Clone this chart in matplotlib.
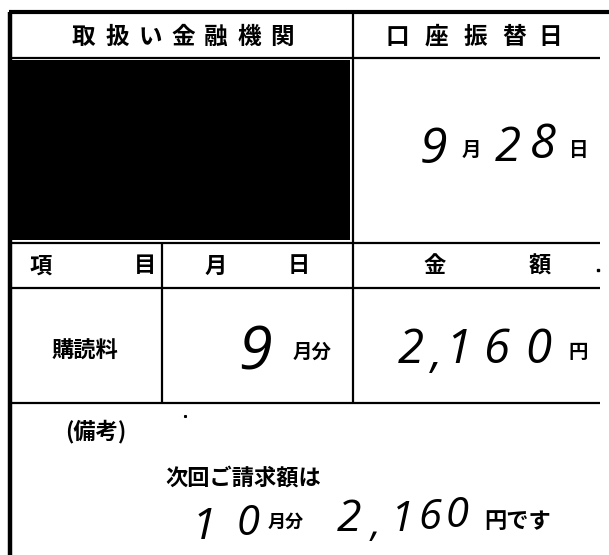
import matplotlib
matplotlib.use("Agg")
import matplotlib.pyplot as plt

plt.rcParams['font.family'] = ['Noto Sans CJK JP', 'DejaVu Sans']

# form ruling (pixel coords of the scanned slip)
h_rules_y = [12, 58, 243, 288, 403]
h_rules_x0 = [9, 9, 9, 9, 9]
h_rules_x1 = [609, 600, 600, 600, 600]
h_rules_w = [3.0, 1.6, 1.6, 1.6, 1.6]
v_rules_x = [10, 353, 162]
v_rules_y0 = [12, 12, 243]
v_rules_y1 = [555, 403, 403]
v_rules_w = [3.2, 1.6, 1.6]

# blacked-out bank name
redact_box = (12, 60, 350, 240)

# printed labels: (text, x, y, size)
printed = [
    ("取", 83, 37, 17), ("扱", 117, 37, 17), ("い", 150, 37, 17), ("金", 183, 37, 17),
    ("融", 216, 37, 17), ("機", 249, 37, 17), ("関", 282, 37, 17),
    ("口", 397, 37, 17), ("座", 436, 37, 17), ("振", 475, 37, 17), ("替", 514, 37, 17),
    ("日", 550, 37, 17),
    ("項", 41, 266, 16), ("目", 145, 266, 16),
    ("月", 216, 266, 16), ("日", 299, 266, 16),
    ("金", 435, 266, 16), ("額", 540, 266, 16),
    ("購読料", 85, 351, 16),
    ("月分", 312, 352, 14),
    ("円", 578, 352, 14),
    ("月", 471, 150, 14), ("日", 579, 150, 14),
    ("(備考)", 96, 432, 16),
    ("次回ご請求額は", 243, 478, 16),
    ("月分", 286, 522, 13),
    ("円です", 518, 522, 16),
]

# handwritten entries: (text, x, y, size)
handwritten = [
    ("9", 433, 150, 36), ("2", 508, 148, 34), ("8", 543, 145, 34),
    ("9", 255, 354, 44),
    ("2", 411, 350, 34), (",", 436, 356, 32), ("1", 458, 350, 34), ("6", 497, 350, 34),
    ("0", 538, 350, 34),
    ("1", 204, 528, 32), ("0", 248, 524, 30),
    ("2", 349, 520, 32), (",", 375, 526, 28), ("1", 402, 520, 30), ("6", 430, 518, 30),
    ("0", 457, 516, 30),
]

fig = plt.figure(figsize=(6.09, 5.55), dpi=100)
ax = fig.add_axes([0, 0, 1, 1])
ax.set_xlim(0, 609)
ax.set_ylim(555, 0)
ax.axis("off")

for y, x0, x1, w in zip(h_rules_y, h_rules_x0, h_rules_x1, h_rules_w):
    ax.plot([x0, x1], [y, y], color="black", lw=w, solid_capstyle="butt")
for x, y0, y1, w in zip(v_rules_x, v_rules_y0, v_rules_y1, v_rules_w):
    ax.plot([x, x], [y0, y1], color="black", lw=w, solid_capstyle="butt")

x0, y0, x1, y1 = redact_box
ax.add_patch(plt.Rectangle((x0, y0), x1 - x0, y1 - y0, color="black", lw=0))

for t, x, y, s in printed:
    ax.text(x, y, t, fontsize=s, fontweight="bold", ha="center", va="center")

for t, x, y, s in handwritten:
    ax.text(x, y, t, fontsize=s, fontstyle="italic", fontweight="normal",
            family=["Open Sans", "DejaVu Sans"], ha="center", va="center")

# stray scan specks
ax.plot([598], [270], marker="s", ms=1.5, color="black")
ax.plot([185], [416], marker="s", ms=1.2, color="black")

fig.savefig("out.png", dpi=100)
